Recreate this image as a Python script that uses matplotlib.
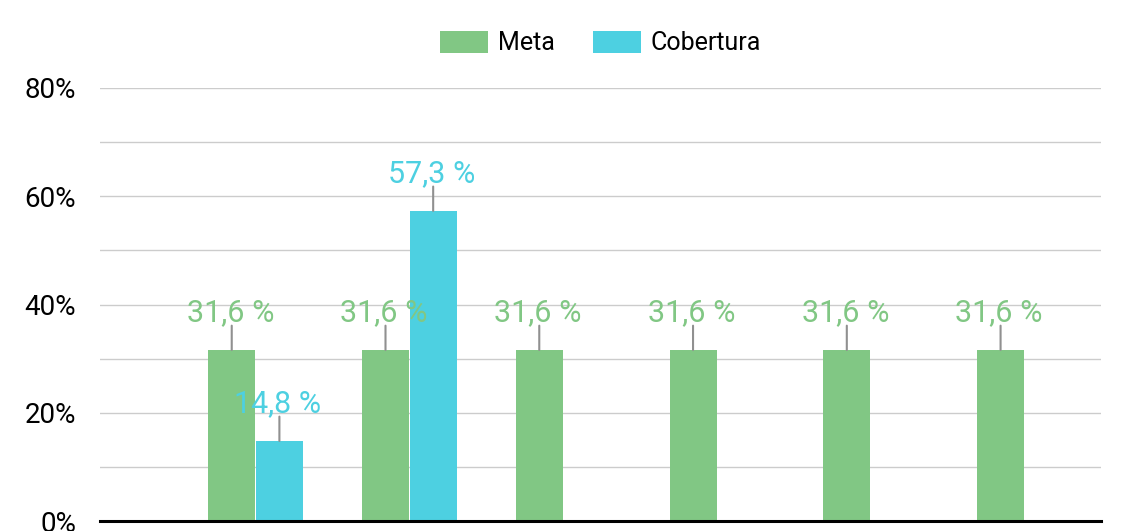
import numpy as np
import matplotlib
matplotlib.use("Agg")
import matplotlib.pyplot as plt

plt.rcParams["font.family"] = ["Roboto", "DejaVu Sans"]

GREEN = "#81C784"
CYAN = "#4DD0E1"

# datos
grupos = [1, 2, 3, 4, 5, 6]
meta = [31.6, 31.6, 31.6, 31.6, 31.6, 31.6]
cobertura = [14.8, 57.3, None, None, None, None]
yticks = [0, 20, 40, 60, 80]

fig = plt.figure(figsize=(11.32, 5.31), dpi=100, facecolor="white")
ax = fig.add_axes([0.0883, 0.0188, 0.8843, 0.8155])

w = 0.306
x = np.array(grupos, dtype=float)
ax.bar(x - w / 2, meta, width=w, color=GREEN, label="Meta", zorder=3, linewidth=0)
cx = [xi + w / 2 + 0.004 for xi, v in zip(x, cobertura) if v is not None]
cv = [v for v in cobertura if v is not None]
ax.bar(cx, cv, width=w, color=CYAN, label="Cobertura", zorder=3, linewidth=0)


def etiqueta(xp, v, color):
    ax.annotate("", xy=(xp, v), xytext=(0, 17.5), textcoords="offset points",
                arrowprops=dict(arrowstyle="-", color="#909090", lw=1.5,
                                shrinkA=0, shrinkB=0), zorder=4)
    ax.annotate(f"{v:.1f} %".replace(".", ","), xy=(xp, v), xytext=(-1, 21),
                textcoords="offset points", ha="center", va="baseline",
                fontsize=22, color=color, zorder=5)


for xi, v in zip(x, meta):
    etiqueta(xi - w / 2, v, GREEN)
for xi, v in zip(cx, cv):
    etiqueta(xi, v, CYAN)

ax.set_xlim(-0.01, 6.5)
ax.set_ylim(0, 80)
ax.set_yticks(yticks)
ax.set_yticklabels([f"{t}%" for t in yticks], fontsize=20)
ax.set_yticks(np.arange(0, 81, 10), minor=True)
ax.grid(axis="y", which="both", color="#cccccc", lw=1.0, zorder=0)
ax.tick_params(axis="y", which="both", length=0, pad=17)
ax.set_xticks([])
for s in ["top", "right", "left"]:
    ax.spines[s].set_visible(False)
ax.spines["bottom"].set_linewidth(2.2)
ax.spines["bottom"].set_color("black")
ax.spines["bottom"].set_zorder(6)

fig.legend(loc="center", bbox_to_anchor=(0.5305, 0.919), ncol=2, frameon=False,
           fontsize=18, handlelength=1.9, handleheight=1.0, handletextpad=0.4,
           columnspacing=1.55)

fig.savefig("out.png", dpi=100, facecolor="white")
